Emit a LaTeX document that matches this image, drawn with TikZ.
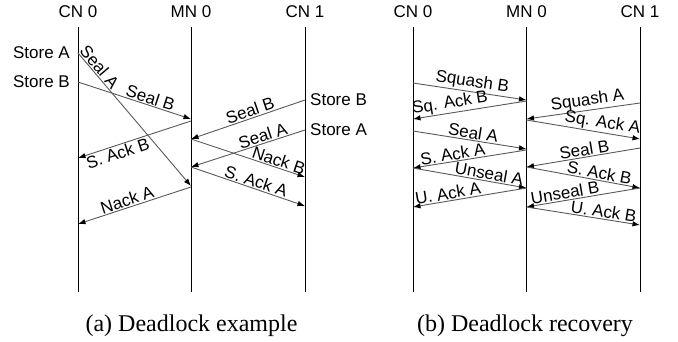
\documentclass[tikz,border=0pt]{standalone}
\usepackage{fontspec}
\setmainfont{Liberation Sans}
\newfontfamily\capfont{Liberation Serif}
\usetikzlibrary{arrows.meta}
\begin{document}
\begin{tikzpicture}[x=1pt,y=-1pt,
  lbl/.style={font=\fontsize{17}{20}\selectfont, inner sep=0pt},
  life/.style={draw=black, line width=1pt},
  msg/.style={draw=black!65, line width=0.9pt, -{Latex[length=7.5pt,width=5.5pt,black]}},
  ml/.style={font=\fontsize{17}{20}\selectfont, sloped, above, inner sep=1pt},
  mlb/.style={font=\fontsize{17}{20}\selectfont, sloped, below, inner sep=1pt},
  captext/.style={font=\capfont\fontsize{24}{28}\selectfont, anchor=base, inner sep=0pt}
]
\useasboundingbox (0,0) rectangle (678,341);
% ---------- headings ----------
\node[lbl, anchor=base] (hA0) at (78,17) {CN 0};
\node[lbl, anchor=base] (hAM) at (191,17) {MN 0};
\node[lbl, anchor=base] (hA1) at (305,17) {CN 1};
\node[lbl, anchor=base] (hB0) at (413,17) {CN 0};
\node[lbl, anchor=base] (hBM) at (526.5,17) {MN 0};
\node[lbl, anchor=base] (hB1) at (640,17) {CN 1};
% ---------- lifelines ----------
\foreach \n/\x in {A0/78, AM/191, A1/305, B0/413, BM/526.5, B1/640}{
  \coordinate (t\n) at (\x,27);
  \coordinate (b\n) at (\x,292);
  \draw[life] (t\n) -- (b\n);
}
% ---------- (a) deadlock example ----------
\node[lbl, anchor=east] (sA) at (70,53) {Store A};
\node[lbl, anchor=east] (sB) at (70,82) {Store B};
\node[lbl, anchor=west] (s1B) at (310,100) {Store B};
\node[lbl, anchor=west] (s1A) at (310,130) {Store A};

\coordinate (a1s) at (78,53);   \coordinate (a1e) at (191,186);
\coordinate (a2s) at (78,82);   \coordinate (a2e) at (191,119);
\coordinate (a3s) at (305,100); \coordinate (a3e) at (191,139);
\coordinate (a4s) at (191,121); \coordinate (a4e) at (78,158);
\coordinate (a5s) at (305,130); \coordinate (a5e) at (191,167);
\coordinate (a6s) at (191,139); \coordinate (a6e) at (305,177);
\coordinate (a7s) at (191,167); \coordinate (a7e) at (305,206);
\coordinate (a8s) at (191,187); \coordinate (a8e) at (78,224);

\draw[msg] (a1s) -- node[ml, pos=0.14] {Seal A} (a1e);
\draw[msg] (a2s) -- node[ml, pos=0.62] {Seal B} (a2e);
\draw[msg] (a3s) -- node[ml, pos=0.46] {Seal B} (a3e);
\draw[msg] (a4s) -- node[mlb, pos=0.67] {S. Ack B} (a4e);
\draw[msg] (a5s) -- node[ml, pos=0.35] {Seal A} (a5e);
\draw[msg] (a6s) -- node[ml, pos=0.75] {Nack B} (a6e);
\draw[msg] (a7s) -- node[ml, pos=0.55] {S. Ack A} (a7e);
\draw[msg] (a8s) -- node[ml, pos=0.545] {Nack A} (a8e);

% ---------- (b) deadlock recovery ----------
\coordinate (b1s) at (413,83);    \coordinate (b1e) at (526.5,100);
\coordinate (b2s) at (526.5,101); \coordinate (b2e) at (413,119);
\coordinate (b3s) at (640,103);   \coordinate (b3e) at (526.5,119);
\coordinate (b4s) at (526.5,120); \coordinate (b4e) at (640,139);
\coordinate (b5s) at (413,131);   \coordinate (b5e) at (526.5,149);
\coordinate (b6s) at (526.5,150); \coordinate (b6e) at (413,168);
\coordinate (b7s) at (413,168);   \coordinate (b7e) at (526.5,188);
\coordinate (b8s) at (526.5,188); \coordinate (b8e) at (413,207);
\coordinate (b9s) at (640,148);   \coordinate (b9e) at (526.5,167);
\coordinate (b10s) at (526.5,167);\coordinate (b10e) at (640,188);
\coordinate (b11s) at (640,188);  \coordinate (b11e) at (526.5,207);
\coordinate (b12s) at (526.5,207);\coordinate (b12e) at (640,225);

\draw[msg] (b1s) -- node[ml, pos=0.51] {Squash B} (b1e);
\draw[msg] (b2s) -- node[ml, pos=0.66] {Sq. Ack B} (b2e);
\draw[msg] (b3s) -- node[ml, pos=0.45] {Squash A} (b3e);
\draw[msg] (b4s) -- node[ml, pos=0.655] {Sq. Ack A} (b4e);
\draw[msg] (b5s) -- node[ml, pos=0.52] {Seal A} (b5e);
\draw[msg] (b6s) -- node[ml, pos=0.64] {S. Ack A} (b6e);
\draw[msg] (b7s) -- node[ml, pos=0.66] {Unseal A} (b7e);
\draw[msg] (b8s) -- node[ml, pos=0.68] {U. Ack A} (b8e);
\draw[msg] (b9s) -- node[ml, pos=0.48] {Seal B} (b9e);
\draw[msg] (b10s) -- node[ml, pos=0.63] {S. Ack B} (b10e);
\draw[msg] (b11s) -- node[ml, pos=0.65] {Unseal B} (b11e);
\draw[msg] (b12s) -- node[ml, pos=0.67] {U. Ack B} (b12e);

% ---------- captions ----------
\node[captext] (capA) at (191.5,331) {(a) Deadlock example};
\node[captext] (capB) at (525,331) {(b) Deadlock recovery};
\end{tikzpicture}
\end{document}
